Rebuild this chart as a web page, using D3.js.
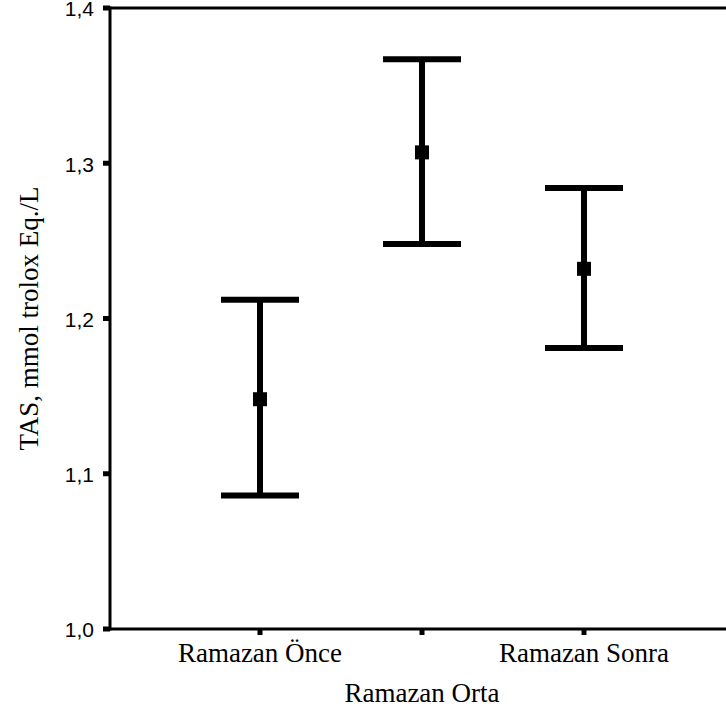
<!DOCTYPE html>
<html lang="tr">
<head>
<meta charset="UTF-8">
<title>TAS error bars</title>
<script src="https://d3js.org/d3.v7.min.js"></script>
<style>
  body { margin: 0; background: #fff; }
  svg { display: block; }
  .ylab { font-family: "Liberation Sans", Arial, sans-serif; font-size: 21px; }
  .xlab, .ytitle { font-family: "Liberation Serif", "Times New Roman", serif; font-size: 27px; }
</style>
</head>
<body>
<div id="chart"></div>
<script>
const groups = ["Ramazan Önce", "Ramazan Orta", "Ramazan Sonra"];
const means = [1.148, 1.307, 1.232];
const upper = [1.212, 1.367, 1.284];
const lower = [1.086, 1.248, 1.181];
const yTicks = [1.0, 1.1, 1.2, 1.3, 1.4];

const width = 726, height = 715;
const x0 = 110, yTop = 8, yBot = 629;

const svg = d3.select("#chart").append("svg")
  .attr("width", width).attr("height", height);

const x = d3.scalePoint().domain(groups).range([260, 584]);
const y = d3.scaleLinear().domain([1.0, 1.4]).range([yBot, yTop]);

// frame: left axis, bottom axis, top line
svg.append("line").attr("x1", x0).attr("x2", x0).attr("y1", yTop - 1.5).attr("y2", yBot + 1.5)
  .attr("stroke", "#000").attr("stroke-width", 3);
svg.append("line").attr("x1", x0).attr("x2", width).attr("y1", yBot).attr("y2", yBot)
  .attr("stroke", "#000").attr("stroke-width", 3);
svg.append("line").attr("x1", x0).attr("x2", width).attr("y1", yTop).attr("y2", yTop)
  .attr("stroke", "#000").attr("stroke-width", 3);

// y ticks (small squares) and labels
const yg = svg.append("g");
yg.selectAll("rect").data(yTicks).enter().append("rect")
  .attr("x", x0 - 7).attr("y", d => y(d) - 2.5).attr("width", 7).attr("height", 5).attr("fill", "#000");
yg.selectAll("text").data(yTicks).enter().append("text")
  .attr("class", "ylab")
  .attr("x", x0 - 16).attr("y", d => y(d) + 1).attr("dy", "0.35em")
  .attr("text-anchor", "end")
  .text(d => d.toFixed(1).replace(".", ","));

// x ticks and labels (middle one staggered)
const xg = svg.append("g");
xg.selectAll("rect").data(groups).enter().append("rect")
  .attr("x", d => x(d) - 2.5).attr("y", yBot).attr("width", 5).attr("height", 6).attr("fill", "#000");
xg.selectAll("text").data(groups).enter().append("text")
  .attr("class", "xlab")
  .attr("x", d => x(d))
  .attr("y", (d, i) => i === 1 ? 702 : 662)
  .attr("text-anchor", "middle")
  .text(d => d);

// y title
svg.append("text").attr("class", "ytitle")
  .attr("transform", `translate(38,${(yTop + yBot) / 2}) rotate(-90)`)
  .attr("text-anchor", "middle")
  .text("TAS, mmol trolox Eq./L");

// error bars
const capHalf = 39;
const bars = svg.append("g").selectAll("g").data(groups).enter().append("g");
bars.append("line")
  .attr("x1", d => x(d)).attr("x2", d => x(d))
  .attr("y1", (d, i) => y(upper[i])).attr("y2", (d, i) => y(lower[i]))
  .attr("stroke", "#000").attr("stroke-width", 6);
bars.append("line")
  .attr("x1", d => x(d) - capHalf).attr("x2", d => x(d) + capHalf)
  .attr("y1", (d, i) => y(upper[i])).attr("y2", (d, i) => y(upper[i]))
  .attr("stroke", "#000").attr("stroke-width", 6);
bars.append("line")
  .attr("x1", d => x(d) - capHalf).attr("x2", d => x(d) + capHalf)
  .attr("y1", (d, i) => y(lower[i])).attr("y2", (d, i) => y(lower[i]))
  .attr("stroke", "#000").attr("stroke-width", 6);
bars.append("rect")
  .attr("x", d => x(d) - 7).attr("y", (d, i) => y(means[i]) - 7)
  .attr("width", 14).attr("height", 14).attr("fill", "#000");
</script>
</body>
</html>
